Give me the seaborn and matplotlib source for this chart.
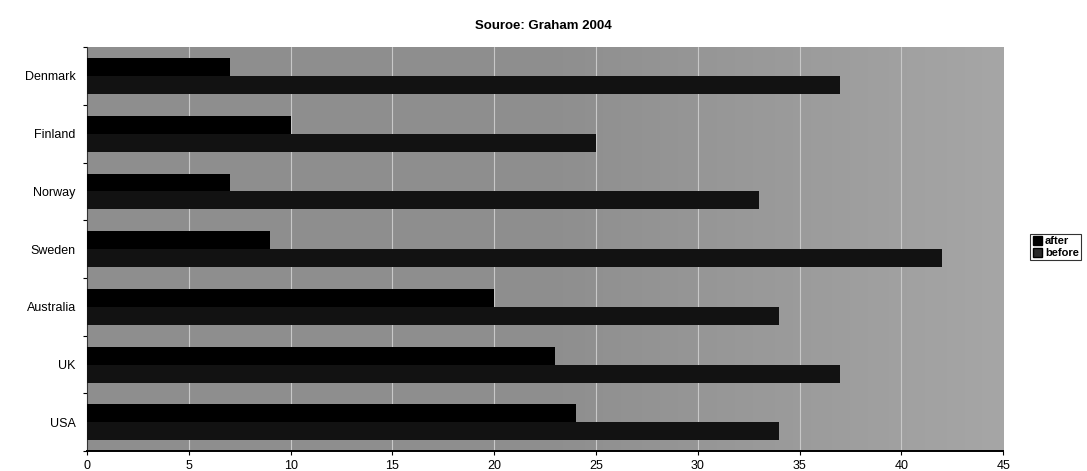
import matplotlib
matplotlib.use("Agg")
import matplotlib.pyplot as plt
import seaborn as sns
import pandas as pd
import numpy as np
from matplotlib.patches import Patch

countries = ["Denmark", "Finland", "Norway", "Sweden", "Australia", "UK", "USA"]
after = [7, 10, 7, 9, 20, 23, 24]
before = [37, 25, 33, 42, 34, 37, 34]
x_ticks = [0, 5, 10, 15, 20, 25, 30, 35, 40, 45]
title = "Souroe: Graham 2004"

df = pd.DataFrame({
    "country": countries * 2,
    "value": after + before,
    "period": ["after"] * len(countries) + ["before"] * len(countries),
})

sns.set_theme(style="white")
plt.rcParams["font.family"] = ["Liberation Sans", "DejaVu Sans"]
plt.rcParams["text.color"] = "black"
plt.rcParams["xtick.color"] = "black"
plt.rcParams["ytick.color"] = "black"

fig = plt.figure(figsize=(10.87, 4.71), dpi=100)
ax = fig.add_axes([0.080, 0.042, 0.843, 0.858])

grad = np.linspace(0.0, 1.0, 256).reshape(1, -1)
ax.imshow(grad, extent=[0, 45, len(countries) - 0.5, -0.5], aspect="auto",
          cmap=matplotlib.colors.LinearSegmentedColormap.from_list(
              "bg", ["#8e8e8e", "#8e8e8e", "#a6a6a6"]), zorder=0)

palette = {"after": "#000000", "before": "#121212"}
sns.barplot(data=df, y="country", x="value", hue="period", order=countries,
            hue_order=["after", "before"], palette=palette, orient="h",
            width=0.62, saturation=1, errorbar=None, ax=ax, legend=False,
            linewidth=0, zorder=3)

ax.set_xlim(0, 45)
ax.set_ylim(len(countries) - 0.5, -0.5)
ax.set_xticks(x_ticks)
ax.set_xticklabels([str(t) for t in x_ticks], fontsize=9)
ax.tick_params(axis="x", length=3, width=0.8, color="black", pad=3, bottom=True)
ax.tick_params(axis="y", length=0, pad=8, labelsize=9)
ax.set_yticks(np.arange(len(countries) + 1) - 0.5, minor=True)
ax.tick_params(axis="y", which="minor", length=3, width=0.8, color="black", left=True)
ax.set_xlabel("")
ax.set_ylabel("")
for t in x_ticks[1:-1]:
    ax.axvline(t, color="#c8c8c8", lw=0.8, zorder=1)

for side in ["top", "right"]:
    ax.spines[side].set_visible(False)
ax.spines["left"].set_color("#333333")
ax.spines["bottom"].set_color("black")
ax.spines["left"].set_linewidth(0.8)
ax.spines["bottom"].set_linewidth(1.4)

fig.text(0.5, 0.945, title, ha="center", va="center", fontsize=9.5,
         fontweight="bold")

handles = [Patch(facecolor="#000000", edgecolor="black", label="after"),
           Patch(facecolor="#2a2a2a", edgecolor="black", label="before")]
leg = fig.legend(handles=handles, loc="center left",
                 bbox_to_anchor=(0.948, 0.475), frameon=True, fontsize=8,
                 handlelength=0.8, handleheight=0.8, handletextpad=0.3,
                 borderpad=0.2, labelspacing=0.15, fancybox=False,
                 borderaxespad=0)
leg.get_frame().set_edgecolor("black")
leg.get_frame().set_linewidth(0.8)
for txt in leg.get_texts():
    txt.set_fontweight("bold")

fig.savefig("out.png", dpi=100)
